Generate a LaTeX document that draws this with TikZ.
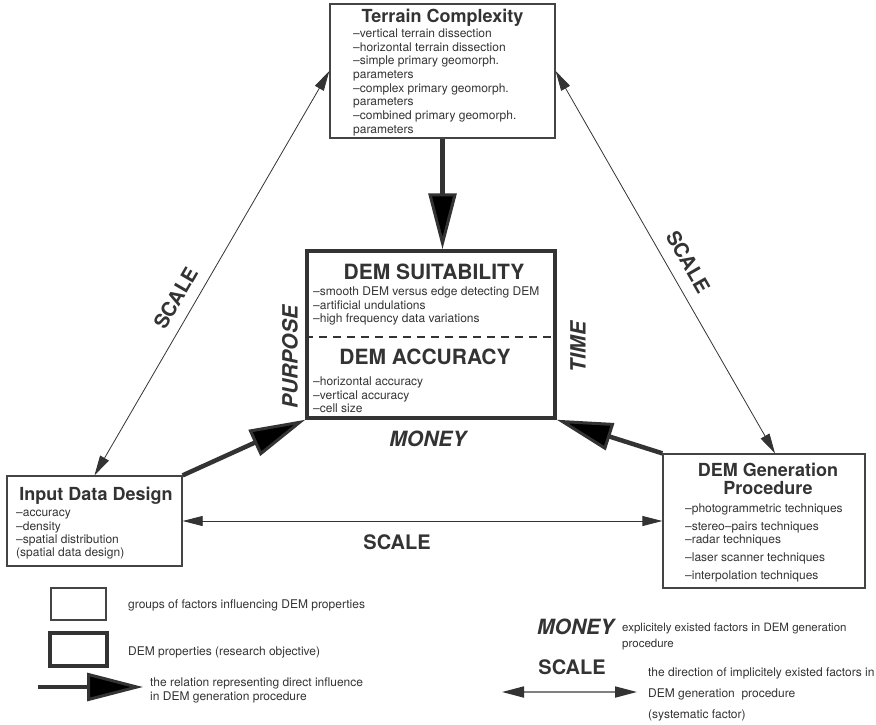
\documentclass[tikz,border=0pt]{standalone}
\usepackage{fontspec}
\setmainfont{TeX Gyre Heros}
\usetikzlibrary{arrows.meta}
\definecolor{ink}{HTML}{333333}
\definecolor{frame}{HTML}{444444}
\begin{document}
\begin{tikzpicture}[x=1pt,y=-1pt,text=ink,
   factor/.style={draw=frame,line width=1.3pt,rectangle,inner sep=0pt},
   property/.style={draw=ink,line width=3.5pt,rectangle,inner sep=0pt},
   title/.style={font=\fontsize{18}{17.3}\selectfont\bfseries,inner sep=0pt,align=center},
   bigtitle/.style={font=\fontsize{21}{22}\selectfont\bfseries,inner sep=0pt},
   body/.style={font=\fontsize{12}{13.3}\selectfont,align=left,inner sep=0pt},
   factorlabel/.style={font=\fontsize{21}{22}\selectfont\bfseries\itshape,inner sep=0pt},
   scalelabel/.style={font=\fontsize{20}{21}\selectfont\bfseries,inner sep=0pt},
   influence/.style={draw=ink,line width=4.5pt,-{Triangle[length=56pt,width=28pt,fill=black,line width=3pt]}},
   implicit/.style={draw=ink,line width=0.8pt,{Triangle[length=20pt,width=10pt]}-{Triangle[length=20pt,width=10pt]}},
   divider/.style={draw=ink,line width=1.2pt,dash pattern=on 8pt off 6pt}]
\useasboundingbox (0,0) rectangle (876,724);

\node[factor,minimum width=225pt,minimum height=134pt] (terrain) at (442.5,71) {};
\node[title,anchor=base] (terrain title) at (442.5,22.7) {Terrain Complexity};
\node[body,anchor=base west,font=\fontsize{12}{13.7}\selectfont] (terrain list) at (353,133.2)
   {–vertical terrain dissection\\–horizontal terrain dissection\\–simple primary geomorph.\\parameters\\%
    –complex primary geomorph.\\parameters\\–combined primary geomorph.\\parameters};

\node[property,minimum width=248pt,minimum height=167pt] (centre) at (431,334.5) {};
\node[bigtitle,anchor=base] (suitability) at (434,279.5) {DEM SUITABILITY};
\node[body,anchor=base west] (suitability list) at (313,322.3)
   {–smooth DEM versus edge detecting DEM\\–artificial undulations\\–high frequency data variations};
\draw[divider] ([yshift=-2.5pt]centre.west) -- ([yshift=-2.5pt]centre.east);
\node[bigtitle,anchor=base] (accuracy) at (425,364) {DEM ACCURACY};
\node[body,anchor=base west] (accuracy list) at (313,412.3)
   {–horizontal accuracy\\–vertical accuracy\\–cell size};

\node[factor,minimum width=175pt,minimum height=90pt] (input) at (94.5,521) {};
\node[title,anchor=base] (input title) at (96,500) {Input Data Design};
\node[body,anchor=base west] (input list) at (16,556.6)
   {–accuracy\\–density\\–spatial distribution\\(spatial data design)};

\node[factor,minimum width=202pt,minimum height=134pt] (gen) at (764,521) {};
\node[title,anchor=base] (gen title) at (768,494) {DEM Generation\\Procedure};
\node[body,anchor=base west,font=\fontsize{12}{13}\selectfont] (gen list) at (685,579.3)
   {–photogrammetric techniques\\[5pt]–stereo–pairs techniques\\–radar techniques\\[5.4pt]%
    –laser scanner techniques\\[4.6pt]–interpolation techniques};

\draw[influence] (terrain.south) -- (terrain.south |- centre.north);
\draw[influence] (input.north east) -- (centre.south west);
\draw[influence] (gen.north west) -- (centre.south east);

\draw[implicit] (input.north) -- node[scalelabel,sloped,above=11pt,pos=0.415] (scale left) {SCALE} (terrain.west);
\draw[implicit] (terrain.east) -- node[scalelabel,sloped,above=12pt,pos=0.525] (scale right) {SCALE} ([xshift=11pt]gen.north);
\draw[implicit] (input) -- node[scalelabel,below=13pt,pos=0.447] (scale bottom) {SCALE} (gen);

\node[factorlabel,rotate=90] (purpose) at (290,357) {PURPOSE};
\node[factorlabel,rotate=90] (time) at (578,347) {TIME};
\node[factorlabel] (money) at (428,439) {MONEY};

\node[factor,minimum width=55pt,minimum height=32pt] (key factor) at (78.5,604) {};
\node[body,anchor=west] (key factor text) at (128,605) {groups of factors influencing DEM properties};
\node[property,line width=4pt,minimum width=57pt,minimum height=33pt] (key property) at (78.5,649.5) {};
\node[body,anchor=west] (key property text) at (128,652) {DEM properties (research objective)};
\coordinate (key from) at (38,687);
\coordinate (key to) at (143,687);
\draw[influence] (key from) -- (key to);
\node[body,anchor=west,font=\fontsize{12}{14}\selectfont] (key influence text) at (150,690)
   {the relation representing direct influence\\in DEM generation procedure};

\node[factorlabel,anchor=west] (key money) at (537,627) {MONEY};
\node[body,anchor=west,font=\fontsize{11.5}{16}\selectfont] (key money text) at (622,637)
   {explicitely existed factors in DEM generation\\procedure};
\node[scalelabel] (key scale) at (572,667) {SCALE};
\coordinate (key scale from) at (502,692);
\coordinate (key scale to) at (637,692);
\draw[draw=black!50,line width=1.8pt,{Triangle[length=22pt,width=11pt,color=ink]}-{Triangle[length=22pt,width=11pt,color=ink]}]
   (key scale from) -- (key scale to);
\node[body,anchor=base west,font=\fontsize{12}{21}\selectfont] (key scale text) at (648,718)
   {the direction of implicitely existed factors in\\DEM generation~ procedure\\(systematic factor)};
\end{tikzpicture}
\end{document}
